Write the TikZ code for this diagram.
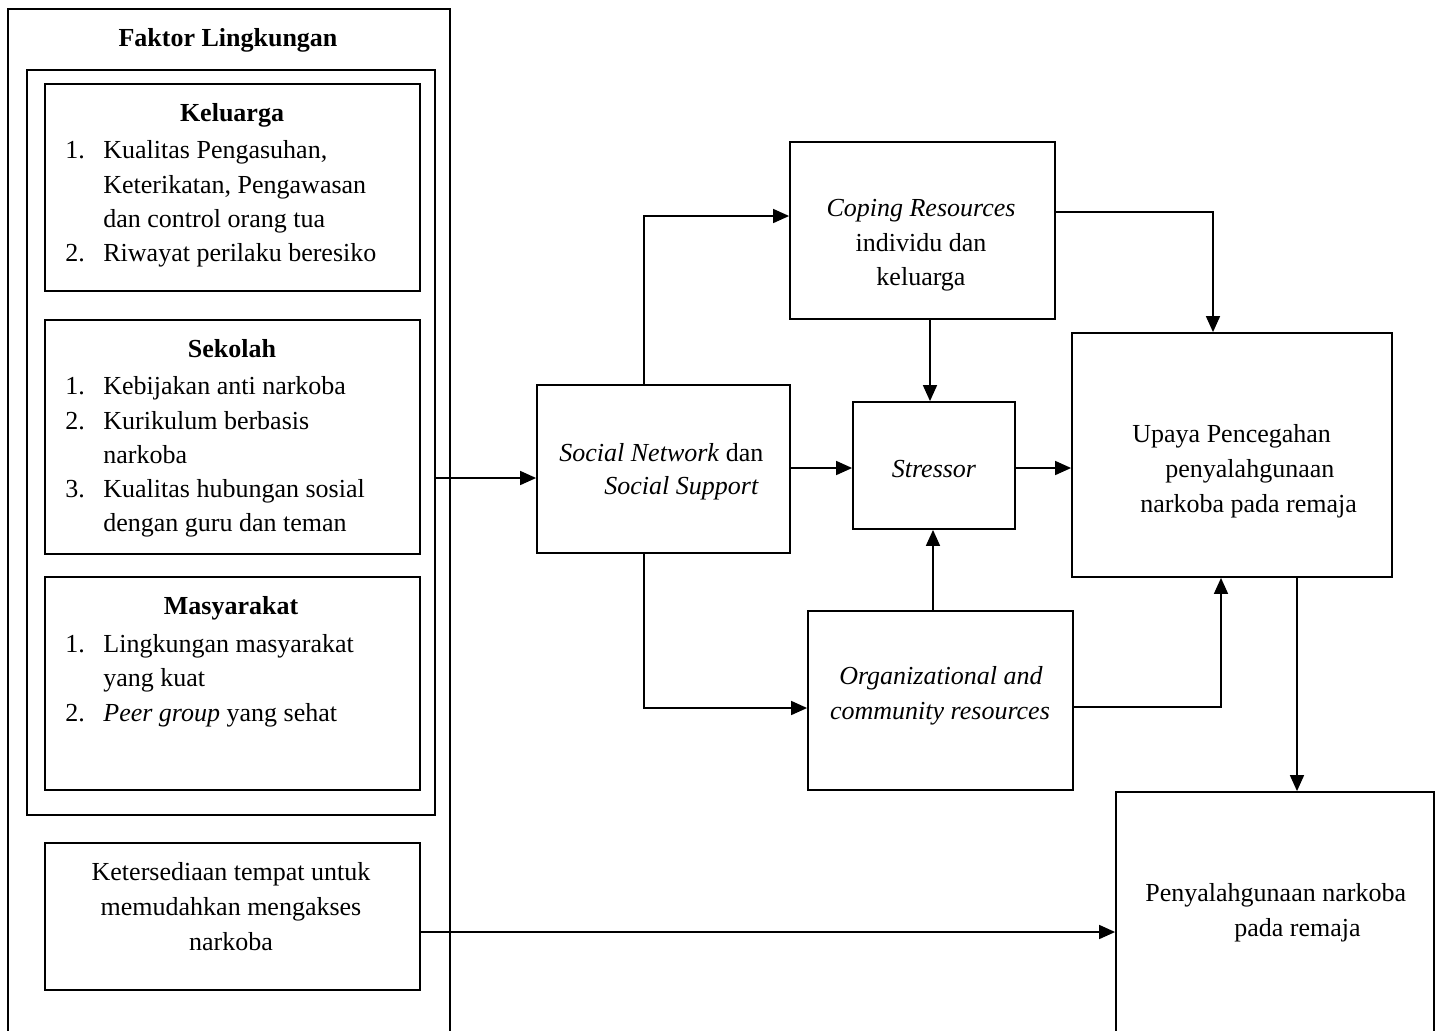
\documentclass[tikz,border=0pt]{standalone}
\usepackage{fontspec}
\setmainfont{Liberation Serif}
\usetikzlibrary{arrows.meta}
\begin{document}
\begin{tikzpicture}[x=0.5pt,y=-0.5pt,
  box/.style={draw, line width=0.9pt, inner sep=0pt, rectangle},
  txt/.style={inner sep=0pt, yshift=-2.5pt, font=\fontsize{13}{16}\selectfont},
  lt/.style={txt, anchor=mid west},
  ct/.style={txt, anchor=mid},
  arr/.style={line width=0.8pt, -{Triangle[length=8pt,width=7pt]}}]
\clip (0,0) rectangle (1436,1030);
\fill[white] (0,0) rectangle (1436,1030);
% boxes
\node[box, minimum width=221pt, minimum height=518pt] (outer) at (229,527) {};
\node[box, minimum width=204pt, minimum height=372.5pt] (inner) at (231,442.5) {};
\node[box, minimum width=187.5pt, minimum height=103.5pt] (kel) at (232.5,187.5) {};
\node[box, minimum width=187.5pt, minimum height=117pt] (sek) at (232.5,437) {};
\node[box, minimum width=187.5pt, minimum height=106.5pt] (mas) at (232.5,683.5) {};
\node[box, minimum width=187.5pt, minimum height=73.5pt] (ket) at (232.5,916.5) {};
\node[box, minimum width=126.5pt, minimum height=84pt] (soc) at (663.5,469) {};
\node[box, minimum width=132.5pt, minimum height=88.5pt] (cop) at (922.5,230.5) {};
\node[box, minimum width=81pt, minimum height=63.5pt] (str) at (934,465.5) {};
\node[box, minimum width=132.5pt, minimum height=89.5pt] (org) at (940.5,700.5) {};
\node[box, minimum width=160pt, minimum height=122pt] (upa) at (1232,455) {};
\node[box, minimum width=159pt, minimum height=126.5pt] (pen) at (1275,918.5) {};
% texts: Faktor Lingkungan
\node[ct, font=\fontsize{13}{16}\selectfont\bfseries] (tfl) at (228,37) {Faktor Lingkungan};
% Keluarga
\node[ct, font=\fontsize{13}{16}\selectfont\bfseries] (tkel) at (232,112) {Keluarga};
\node[lt] (k1n) at (65,149) {1.};
\node[lt] (k1a) at (103,149) {Kualitas Pengasuhan,};
\node[lt] (k1b) at (103,183.5) {Keterikatan, Pengawasan};
\node[lt] (k1c) at (103,218) {dan control orang tua};
\node[lt] (k2n) at (65,252) {2.};
\node[lt] (k2a) at (103,252) {Riwayat perilaku beresiko};
% Sekolah
\node[ct, font=\fontsize{13}{16}\selectfont\bfseries] (tsek) at (232,348) {Sekolah};
\node[lt] (s1n) at (65,385) {1.};
\node[lt] (s1a) at (103,385) {Kebijakan anti narkoba};
\node[lt] (s2n) at (65,420) {2.};
\node[lt] (s2a) at (103,420) {Kurikulum berbasis};
\node[lt] (s2b) at (103,454) {narkoba};
\node[lt] (s3n) at (65,488) {3.};
\node[lt] (s3a) at (103,488) {Kualitas hubungan sosial};
\node[lt] (s3b) at (103,522) {dengan guru dan teman};
% Masyarakat
\node[ct, font=\fontsize{13}{16}\selectfont\bfseries] (tmas) at (231,605) {Masyarakat};
\node[lt] (m1n) at (65,643) {1.};
\node[lt] (m1a) at (103,643) {Lingkungan masyarakat};
\node[lt] (m1b) at (103,677) {yang kuat};
\node[lt] (m2n) at (65,712) {2.};
\node[lt] (m2a) at (103,712) {\textit{Peer group} yang sehat};
% Ketersediaan
\node[ct] (tk1) at (231,871) {Ketersediaan tempat untuk};
\node[ct] (tk2) at (231,906) {memudahkan mengakses};
\node[ct] (tk3) at (231,941) {narkoba};
% Social network
\node[lt] (ts1) at (559,452) {\textit{Social Network} dan};
\node[lt] (ts2) at (604,485) {\textit{Social Support}};
% Coping
\node[ct] (tc1) at (921,207) {\textit{Coping Resources}};
\node[ct] (tc2) at (921,242) {individu dan};
\node[ct] (tc3) at (921,276) {keluarga};
% Stressor
\node[ct] (tst) at (934,468) {\textit{Stressor}};
% Org
\node[ct] (to1) at (941,675) {\textit{Organizational and}};
\node[ct] (to2) at (940,710) {\textit{community resources}};
% Upaya
\node[lt] (tu1) at (1132,433) {Upaya Pencegahan};
\node[lt] (tu2) at (1165,468) {penyalahgunaan};
\node[lt] (tu3) at (1140,503) {narkoba pada remaja};
% Penyalahgunaan
\node[lt] (tp1) at (1145,892) {Penyalahgunaan narkoba};
\node[lt] (tp2) at (1234,927) {pada remaja};
% connectors
\draw[arr] (inner.east |- 0,478) -- (soc.west |- 0,478);
\draw[arr] (soc.north -| 644,0) |- (cop.west |- 0,216);
\draw[arr] (cop.south -| 930,0) -- (str.north -| 930,0);
\draw[arr] (soc.east |- 0,468) -- (str.west |- 0,468);
\draw[arr] (str.east |- 0,468) -- (upa.west |- 0,468);
\draw[arr] (cop.east |- 0,212) -| (upa.north -| 1213,0);
\draw[arr] (soc.south -| 644,0) |- (org.west |- 0,708);
\draw[arr] (org.north -| 933,0) -- (str.south -| 933,0);
\draw[arr] (org.east |- 0,707) -| (upa.south -| 1221,0);
\draw[arr] (upa.south -| 1297,0) -- (pen.north -| 1297,0);
\draw[arr] (ket.east |- 0,932) -- (pen.west |- 0,932);
\end{tikzpicture}
\end{document}
